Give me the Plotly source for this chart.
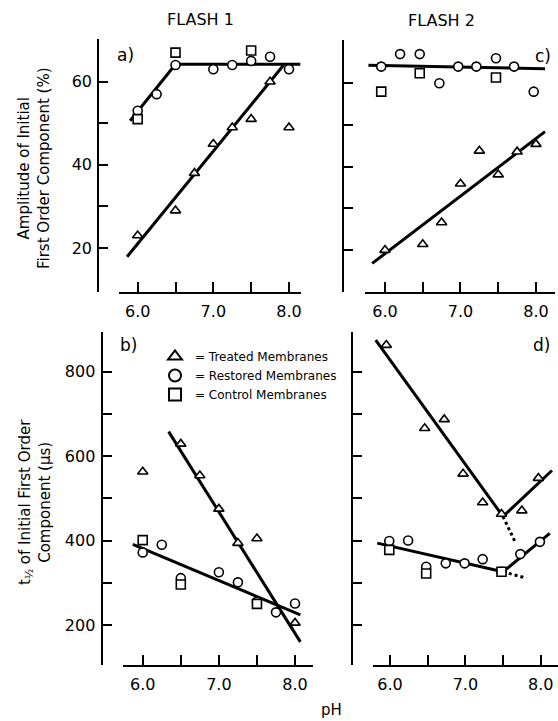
import plotly.graph_objects as go

W, H = 558, 721
FONT = "DejaVu Sans"

# ---------------- data ----------------
# Panel a: FLASH 1 amplitude (%)
a_treated_ph = [6.0, 6.5, 6.75, 7.0, 7.25, 7.5, 7.75, 8.0]
a_treated = [23, 29, 38, 45, 49, 51, 60, 49]
a_restored_ph = [6.0, 6.25, 6.5, 7.0, 7.25, 7.5, 7.75, 8.0]
a_restored = [53, 57, 64, 63, 64, 65, 66, 63]
a_control_ph = [6.0, 6.5, 7.5]
a_control = [51, 67, 67.5]
a_fit_upper_ph = [5.9, 6.5, 8.15]
a_fit_upper = [50.6, 64.2, 64.2]
a_fit_treated_ph = [5.86, 7.93]
a_fit_treated = [17.9, 64.0]

# Panel c: FLASH 2 amplitude (%)
c_treated_ph = [6.0, 6.5, 6.75, 7.0, 7.25, 7.5, 7.75, 8.0]
c_treated = [20, 21.4, 26.6, 35.9, 43.8, 38.1, 43.6, 45.4]
c_restored_ph = [5.95, 6.2, 6.46, 6.72, 6.97, 7.21, 7.47, 7.71, 7.97]
c_restored = [64, 67, 67, 60, 64, 64, 66, 64, 58]
c_control_ph = [5.95, 6.46, 7.47]
c_control = [58, 62.4, 61.4]
c_fit_upper_ph = [5.78, 8.12]
c_fit_upper = [64.3, 63.5]
c_fit_treated_ph = [5.83, 8.12]
c_fit_treated = [16.8, 48.4]

# Panel b: FLASH 1 half-time (us)
b_treated_ph = [6.0, 6.5, 6.75, 7.0, 7.25, 7.5, 8.0]
b_treated = [563, 629, 554, 475, 394, 405, 205]
b_restored_ph = [6.0, 6.25, 6.5, 7.0, 7.25, 7.5, 7.75, 8.0]
b_restored = [372, 390, 311, 325, 301, 255, 230, 251]
b_control_ph = [6.0, 6.5, 7.5]
b_control = [401, 296, 250]
b_fit_treated_ph = [6.34, 8.07]
b_fit_treated = [658, 160]
b_fit_lower_ph = [5.87, 8.07]
b_fit_lower = [391, 224]

# Panel d: FLASH 2 half-time (us)
d_treated_ph = [5.95, 6.46, 6.72, 6.97, 7.23, 7.48, 7.75, 7.97]
d_treated = [863, 666, 687, 558, 490, 463, 471, 548]
d_restored_ph = [5.99, 6.24, 6.48, 6.74, 6.99, 7.23, 7.48, 7.73, 7.99]
d_restored = [399, 400, 338, 346, 346, 356, 326, 368, 397]
d_control_ph = [5.99, 6.48, 7.48]
d_control = [378, 322, 326]
d_fit_treated_down_ph = [5.81, 7.5]
d_fit_treated_down = [875, 457]
d_fit_treated_dot_ph = [7.5, 7.66]
d_fit_treated_dot = [457, 397]
d_fit_treated_up_ph = [7.5, 8.15]
d_fit_treated_up = [457, 566]
d_fit_lower_down_ph = [5.83, 7.5]
d_fit_lower_down = [394, 326]
d_fit_lower_dot_ph = [7.5, 7.81]
d_fit_lower_dot = [326, 311]
d_fit_lower_up_ph = [7.5, 8.12]
d_fit_lower_up = [326, 417]

x_tickvals = [6.0, 7.0, 8.0]
x_ticktext = ["6.0", "7.0", "8.0"]
x_minorvals = [6.5, 7.5]
amp_tickvals = [20, 40, 60]
amp_minorvals = [30, 50]
t_tickvals = [200, 400, 600, 800]
t_minorvals = [300, 500, 700]

# ---------------- figure ----------------
fig = go.Figure()

def px_x(p):
    return p / W

def px_y(p):
    return 1 - p / H

def fit(xa, ya, x, y, dash="solid"):
    fig.add_trace(go.Scatter(x=x, y=y, xaxis=xa, yaxis=ya, mode="lines",
                             line=dict(color="black", width=3, dash=dash),
                             showlegend=False, hoverinfo="skip"))

def pts(xa, ya, x, y, symbol, name, show):
    fig.add_trace(go.Scatter(x=x, y=y, xaxis=xa, yaxis=ya, mode="markers",
                             name=name, legendgroup=name, showlegend=show,
                             marker=dict(symbol=symbol, size=9, color="white",
                                         line=dict(color="black", width=1.6))))

T_NAME = "= Treated Membranes"
R_NAME = "= Restored Membranes"
C_NAME = "= Control Membranes"

# panel a (x, y)
fit("x", "y", a_fit_upper_ph, a_fit_upper)
fit("x", "y", a_fit_treated_ph, a_fit_treated)
pts("x", "y", a_treated_ph, a_treated, "triangle-up", T_NAME, False)
pts("x", "y", a_restored_ph, a_restored, "circle", R_NAME, False)
pts("x", "y", a_control_ph, a_control, "square", C_NAME, False)

# panel c (x2, y2)
fit("x2", "y2", c_fit_upper_ph, c_fit_upper)
fit("x2", "y2", c_fit_treated_ph, c_fit_treated)
pts("x2", "y2", c_treated_ph, c_treated, "triangle-up", T_NAME, False)
pts("x2", "y2", c_restored_ph, c_restored, "circle", R_NAME, False)
pts("x2", "y2", c_control_ph, c_control, "square", C_NAME, False)

# panel b (x3, y3)
fit("x3", "y3", b_fit_treated_ph, b_fit_treated)
fit("x3", "y3", b_fit_lower_ph, b_fit_lower)
pts("x3", "y3", b_treated_ph, b_treated, "triangle-up", T_NAME, True)
pts("x3", "y3", b_restored_ph, b_restored, "circle", R_NAME, True)
pts("x3", "y3", b_control_ph, b_control, "square", C_NAME, True)

# panel d (x4, y4)
fit("x4", "y4", d_fit_treated_down_ph, d_fit_treated_down)
fit("x4", "y4", d_fit_treated_dot_ph, d_fit_treated_dot, "dot")
fit("x4", "y4", d_fit_treated_up_ph, d_fit_treated_up)
fit("x4", "y4", d_fit_lower_down_ph, d_fit_lower_down)
fit("x4", "y4", d_fit_lower_dot_ph, d_fit_lower_dot, "dot")
fit("x4", "y4", d_fit_lower_up_ph, d_fit_lower_up)
pts("x4", "y4", d_treated_ph, d_treated, "triangle-up", T_NAME, False)
pts("x4", "y4", d_restored_ph, d_restored, "circle", R_NAME, False)
pts("x4", "y4", d_control_ph, d_control, "square", C_NAME, False)

tickfont = dict(family=FONT, size=16, color="black")

def xaxis(dom, rng, anchor):
    return dict(domain=dom, range=rng, anchor=anchor, showgrid=False, zeroline=False,
                showline=True, linecolor="black", linewidth=2.2,
                ticks="inside", ticklen=10, tickwidth=2, tickcolor="black",
                tickmode="array", tickvals=x_tickvals, ticktext=x_ticktext,
                tickfont=tickfont, ticklabelstandoff=4,
                minor=dict(tickmode="array", tickvals=x_minorvals, ticks="inside",
                           ticklen=10, tickwidth=2, tickcolor="black", showgrid=False))

def yaxis(dom, rng, pos, vals, minor_vals, labels):
    return dict(domain=dom, range=rng, anchor="free", position=pos,
                showgrid=False, zeroline=False, showline=True, linecolor="black",
                linewidth=2.2, ticks="inside", ticklen=9, tickwidth=2,
                tickcolor="black", tickmode="array", tickvals=vals,
                ticktext=[str(v) for v in vals],
                showticklabels=labels, tickfont=tickfont, ticklabelstandoff=2,
                minor=dict(tickmode="array", tickvals=minor_vals, ticks="inside",
                           ticklen=9, tickwidth=2, tickcolor="black", showgrid=False))

top_dom = [px_y(292), px_y(39)]
bot_dom = [px_y(665), px_y(332)]

fig.update_layout(
    width=W, height=H,
    margin=dict(l=0, r=0, t=0, b=0),
    paper_bgcolor="white", plot_bgcolor="rgba(0,0,0,0)",
    font=dict(family=FONT, color="black"),
    xaxis=xaxis([px_x(119), px_x(301)], [5.753, 8.159], "y"),
    yaxis=yaxis(top_dom, [9.42, 70.27], px_x(98.3), amp_tickvals, amp_minorvals, True),
    xaxis2=xaxis([px_x(365), px_x(555)], [5.735, 8.252], "y2"),
    yaxis2=yaxis([px_y(292), px_y(40)], [9.95, 70.38], px_x(343.3), amp_tickvals, amp_minorvals, False),
    xaxis3=xaxis([px_x(123), px_x(313)], [5.741, 8.236], "y3"),
    yaxis3=yaxis(bot_dom, [105.3, 894.0], px_x(101.7), t_tickvals, t_minorvals, True),
    xaxis4=xaxis([px_x(373), 1.0], [5.774, 8.23], "y4"),
    yaxis4=yaxis(bot_dom, [105.3, 894.0], px_x(351.7), t_tickvals, t_minorvals, False),
    legend=dict(x=px_x(155), y=px_y(342), xanchor="left", yanchor="top",
                bgcolor="rgba(0,0,0,0)", font=dict(family=FONT, size=12, color="black"),
                traceorder="normal", itemsizing="constant"),
)

def note(text, x, y, size=16, angle=0, xanchor="center", yanchor="middle"):
    fig.add_annotation(text=text, x=px_x(x), y=px_y(y), xref="paper", yref="paper",
                       showarrow=False, textangle=angle, xanchor=xanchor, yanchor=yanchor,
                       font=dict(family=FONT, size=size, color="black"))

note("FLASH 1", 200, 20, 16)
note("FLASH 2", 441, 21, 16)
note("pH", 331, 710, 15)
note("a)", 125, 55, 17)
note("c)", 543, 56, 17)
note("b)", 128, 345, 17)
note("d)", 541, 345, 17)
note("Amplitude of Initial<br>First Order Component (%)", 34, 168, 15, -90)
note("t<sub>½</sub> of Initial First Order<br>Component (μs)", 35, 502, 15, -90)

fig.write_html(
    "out.html",
    config={"displayModeBar": False},
    post_script="document.body.style.margin='0';document.body.style.overflow='hidden';",
)
